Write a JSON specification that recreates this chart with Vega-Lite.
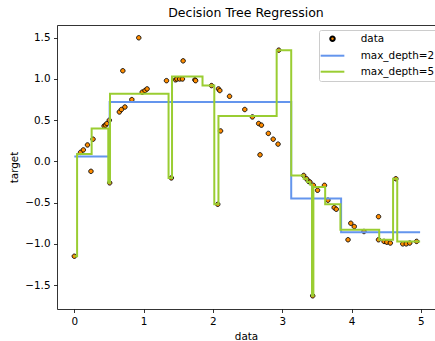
{
  "$schema": "https://vega.github.io/schema/vega-lite/v6.json",
  "width": 378,
  "height": 284,
  "autosize": {"type": "none"},
  "padding": {"left": 57, "top": 25, "right": 0, "bottom": 32},
  "title": {"text": "Decision Tree Regression", "fontSize": 12.5, "fontWeight": "normal", "font": "DejaVu Sans", "color": "black", "frame": "group", "anchor": "middle", "baseline": "alphabetic", "offset": -4},
  "config": {
    "font": "DejaVu Sans",
    "view": {"stroke": null},
    "axis": {"grid": false, "domainColor": "black", "domainWidth": 0.8, "tickColor": "black", "tickWidth": 0.8, "tickSize": 3.5, "labelFontSize": 10.4, "labelColor": "black", "titleFontSize": 10.4, "titleFontWeight": "normal", "titleColor": "black", "labelPadding": 3.5},
    "legend": {"orient": "none", "legendX": 262, "legendY": 5, "padding": 3.5, "fillColor": "white", "strokeColor": "#cccccc", "cornerRadius": 2, "labelFontSize": 10.4, "labelColor": "black", "labelFont": "DejaVu Sans", "labelAlign": "left", "symbolSize": 20, "symbolOffset": 4.8, "labelOffset": 23, "rowPadding": 5, "columnPadding": 0, "symbolStrokeWidth": 2, "symbolOpacity": 1}
  },
  "datasets": {
    "pts": [
      {"x": 0.00, "y": -1.15, "series": "data"},
      {"x": 0.09, "y": 0.11, "series": "data"},
      {"x": 0.13, "y": 0.14, "series": "data"},
      {"x": 0.19, "y": 0.20, "series": "data"},
      {"x": 0.24, "y": -0.12, "series": "data"},
      {"x": 0.27, "y": 0.27, "series": "data"},
      {"x": 0.43, "y": 0.43, "series": "data"},
      {"x": 0.45, "y": 0.44, "series": "data"},
      {"x": 0.47, "y": 0.46, "series": "data"},
      {"x": 0.505, "y": 0.50, "series": "data"},
      {"x": 0.51, "y": -0.26, "series": "data"},
      {"x": 0.65, "y": 0.60, "series": "data"},
      {"x": 0.68, "y": 0.63, "series": "data"},
      {"x": 0.70, "y": 1.10, "series": "data"},
      {"x": 0.73, "y": 0.66, "series": "data"},
      {"x": 0.83, "y": 0.75, "series": "data"},
      {"x": 0.93, "y": 1.50, "series": "data"},
      {"x": 0.98, "y": 0.84, "series": "data"},
      {"x": 1.02, "y": 0.86, "series": "data"},
      {"x": 1.05, "y": 0.88, "series": "data"},
      {"x": 1.33, "y": 0.98, "series": "data"},
      {"x": 1.40, "y": -0.20, "series": "data"},
      {"x": 1.46, "y": 0.99, "series": "data"},
      {"x": 1.48, "y": 1.00, "series": "data"},
      {"x": 1.52, "y": 1.00, "series": "data"},
      {"x": 1.56, "y": 1.00, "series": "data"},
      {"x": 1.57, "y": 1.22, "series": "data"},
      {"x": 1.74, "y": 0.99, "series": "data"},
      {"x": 1.75, "y": 0.98, "series": "data"},
      {"x": 1.98, "y": 0.92, "series": "data"},
      {"x": 2.07, "y": -0.52, "series": "data"},
      {"x": 2.08, "y": 0.88, "series": "data"},
      {"x": 2.10, "y": 0.86, "series": "data"},
      {"x": 2.11, "y": 0.37, "series": "data"},
      {"x": 2.24, "y": 0.79, "series": "data"},
      {"x": 2.46, "y": 0.63, "series": "data"},
      {"x": 2.57, "y": 0.54, "series": "data"},
      {"x": 2.66, "y": 0.46, "series": "data"},
      {"x": 2.68, "y": 0.08, "series": "data"},
      {"x": 2.70, "y": 0.44, "series": "data"},
      {"x": 2.80, "y": 0.34, "series": "data"},
      {"x": 2.87, "y": 0.27, "series": "data"},
      {"x": 2.94, "y": 0.21, "series": "data"},
      {"x": 2.95, "y": 1.35, "series": "data"},
      {"x": 3.31, "y": -0.17, "series": "data"},
      {"x": 3.35, "y": -0.21, "series": "data"},
      {"x": 3.38, "y": -0.24, "series": "data"},
      {"x": 3.40, "y": -0.25, "series": "data"},
      {"x": 3.44, "y": -1.63, "series": "data"},
      {"x": 3.45, "y": -0.29, "series": "data"},
      {"x": 3.51, "y": -0.35, "series": "data"},
      {"x": 3.61, "y": -0.29, "series": "data"},
      {"x": 3.66, "y": -0.47, "series": "data"},
      {"x": 3.75, "y": -0.56, "series": "data"},
      {"x": 3.78, "y": -0.58, "series": "data"},
      {"x": 3.95, "y": -0.95, "series": "data"},
      {"x": 3.99, "y": -0.75, "series": "data"},
      {"x": 4.04, "y": -0.79, "series": "data"},
      {"x": 4.18, "y": -0.85, "series": "data"},
      {"x": 4.39, "y": -0.67, "series": "data"},
      {"x": 4.39, "y": -0.95, "series": "data"},
      {"x": 4.47, "y": -0.97, "series": "data"},
      {"x": 4.51, "y": -0.98, "series": "data"},
      {"x": 4.56, "y": -0.99, "series": "data"},
      {"x": 4.64, "y": -0.21, "series": "data"},
      {"x": 4.74, "y": -1.00, "series": "data"},
      {"x": 4.79, "y": -1.00, "series": "data"},
      {"x": 4.84, "y": -0.99, "series": "data"},
      {"x": 4.94, "y": -0.97, "series": "data"}
    ],
    "pred": [
      {"x": 0.00, "y": 0.06, "series": "max_depth=2"},
      {"x": 0.51, "y": 0.72, "series": "max_depth=2"},
      {"x": 3.13, "y": -0.45, "series": "max_depth=2"},
      {"x": 3.85, "y": -0.86, "series": "max_depth=2"},
      {"x": 4.99, "y": -0.86, "series": "max_depth=2"},
      {"x": 0.00, "y": -1.15, "series": "max_depth=5"},
      {"x": 0.04, "y": 0.09, "series": "max_depth=5"},
      {"x": 0.25, "y": 0.40, "series": "max_depth=5"},
      {"x": 0.49, "y": -0.26, "series": "max_depth=5"},
      {"x": 0.515, "y": 0.82, "series": "max_depth=5"},
      {"x": 1.36, "y": -0.20, "series": "max_depth=5"},
      {"x": 1.41, "y": 1.03, "series": "max_depth=5"},
      {"x": 1.85, "y": 0.92, "series": "max_depth=5"},
      {"x": 2.02, "y": -0.52, "series": "max_depth=5"},
      {"x": 2.08, "y": 0.55, "series": "max_depth=5"},
      {"x": 2.92, "y": 1.35, "series": "max_depth=5"},
      {"x": 3.13, "y": -0.17, "series": "max_depth=5"},
      {"x": 3.31, "y": -0.21, "series": "max_depth=5"},
      {"x": 3.36, "y": -0.25, "series": "max_depth=5"},
      {"x": 3.40, "y": -0.28, "series": "max_depth=5"},
      {"x": 3.43, "y": -1.63, "series": "max_depth=5"},
      {"x": 3.45, "y": -0.31, "series": "max_depth=5"},
      {"x": 3.62, "y": -0.52, "series": "max_depth=5"},
      {"x": 3.84, "y": -0.83, "series": "max_depth=5"},
      {"x": 4.40, "y": -0.95, "series": "max_depth=5"},
      {"x": 4.60, "y": -0.21, "series": "max_depth=5"},
      {"x": 4.66, "y": -0.97, "series": "max_depth=5"},
      {"x": 4.99, "y": -0.97, "series": "max_depth=5"}
    ]
  },
  "layer": [
    {
      "data": {"name": "pts"},
      "mark": {"type": "point", "size": 20, "strokeWidth": 0.9, "opacity": 1, "fillOpacity": 1, "strokeOpacity": 1},
      "encoding": {
        "x": {"field": "x", "type": "quantitative", "scale": {"domain": [-0.25, 5.205], "nice": false, "zero": false}, "axis": {"title": "data", "values": [0, 1, 2, 3, 4, 5], "format": "d", "titlePadding": 5}},
        "y": {"field": "y", "type": "quantitative", "scale": {"domain": [-1.79, 1.655], "nice": false, "zero": false}, "axis": {"title": "target", "values": [-1.5, -1.0, -0.5, 0.0, 0.5, 1.0, 1.5], "labelExpr": "replace(format(datum.value, '.1f'), '-', '\u2212')", "titlePadding": 5}},
        "fill": {"field": "series", "type": "nominal", "scale": {"domain": ["data", "max_depth=2", "max_depth=5"], "range": ["#ff8c00", "transparent", "transparent"]}, "legend": {"title": null}},
        "stroke": {"field": "series", "type": "nominal", "scale": {"domain": ["data", "max_depth=2", "max_depth=5"], "range": ["black", "#6495ed", "#9acd32"]}, "legend": {"title": null}},
        "shape": {"field": "series", "type": "nominal", "scale": {"domain": ["data", "max_depth=2", "max_depth=5"], "range": ["M-5.3,0L-5.3,0M1,0A1,1,0,1,1,-1,0A1,1,0,1,1,1,0ZM5.3,0L5.3,0", "M-5.3,0H5.3", "M-5.3,0H5.3"]}, "legend": {"title": null}}
      }
    },
    {
      "data": {"name": "pred"},
      "transform": [{"filter": "datum.series === 'max_depth=2'"}],
      "mark": {"type": "line", "interpolate": "step-after", "strokeWidth": 2},
      "encoding": {
        "x": {"field": "x", "type": "quantitative", "axis": {"orient": "top", "labels": false, "ticks": false, "title": null}},
        "y": {"field": "y", "type": "quantitative"},
        "stroke": {"field": "series", "type": "nominal", "legend": {"title": null}}
      }
    },
    {
      "data": {"name": "pred"},
      "transform": [{"filter": "datum.series === 'max_depth=5'"}],
      "mark": {"type": "line", "interpolate": "step-after", "strokeWidth": 2},
      "encoding": {
        "x": {"field": "x", "type": "quantitative", "axis": null},
        "y": {"field": "y", "type": "quantitative"},
        "stroke": {"field": "series", "type": "nominal", "legend": {"title": null}}
      }
    }
  ],
  "resolve": {"axis": {"x": "independent"}}
}
